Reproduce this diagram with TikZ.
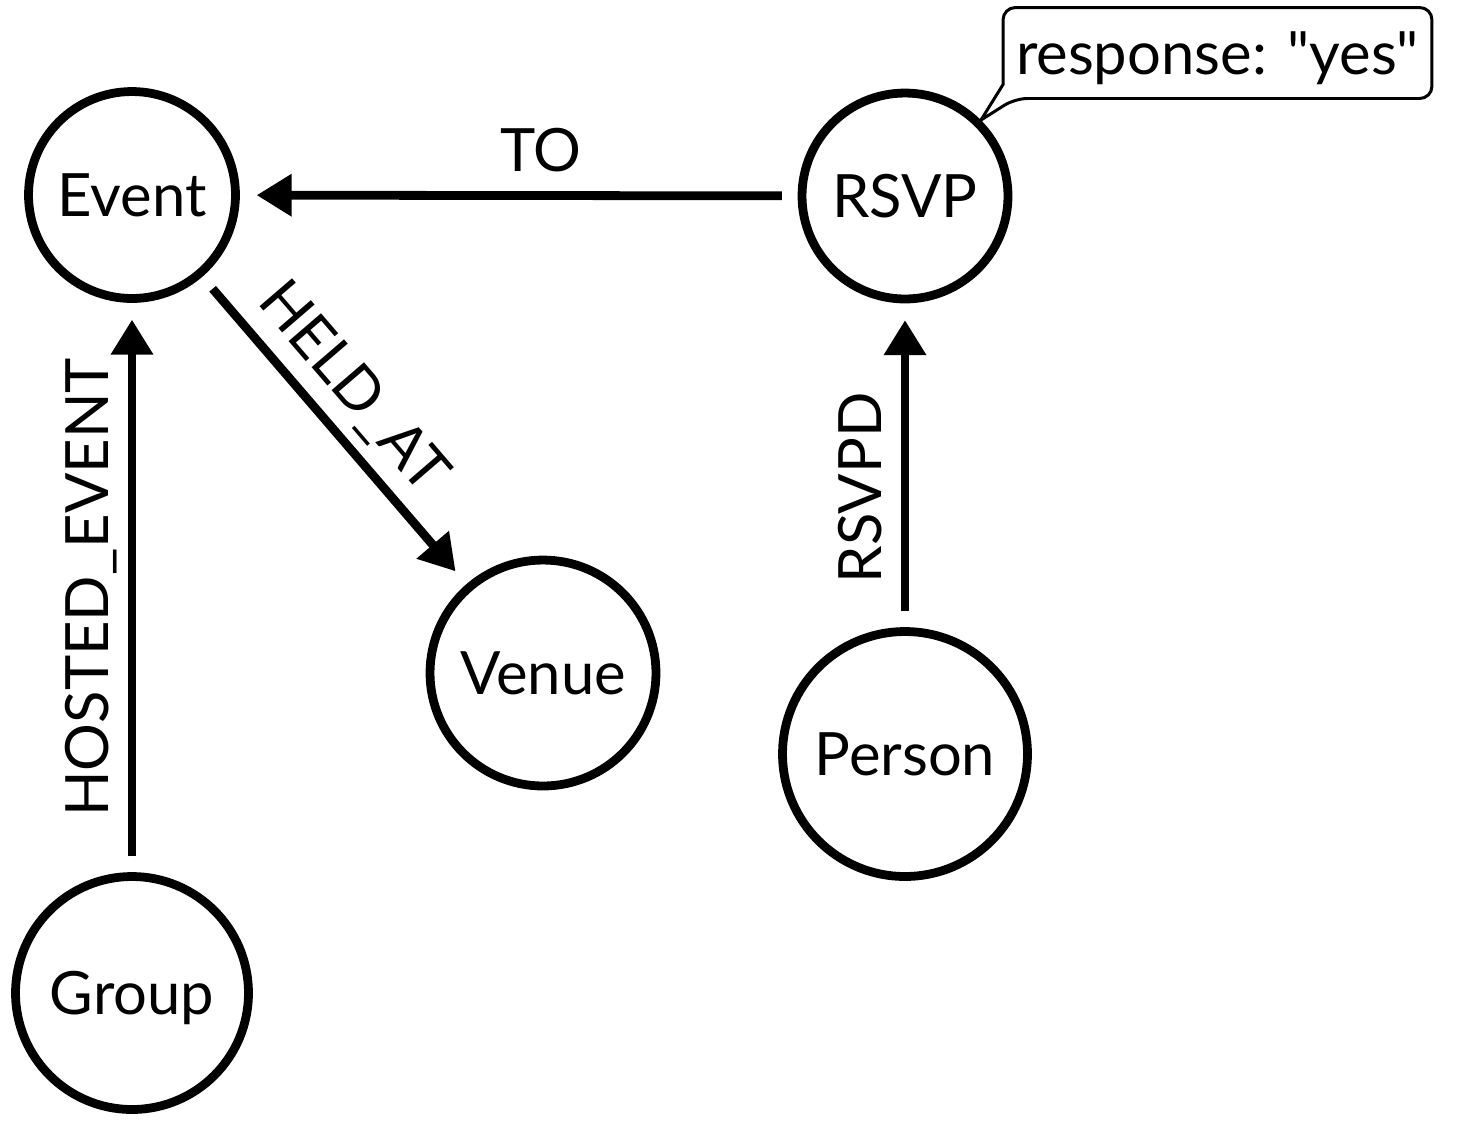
\documentclass[tikz,border=0pt]{standalone}
\usepackage{fontspec}
\newfontfamily\lato{Lato}
\usetikzlibrary{arrows.meta,calc}

\begin{document}
\begin{tikzpicture}[x=0.02cm, y=-0.02cm,
    every node/.style = {font=\lato\fontsize{34}{40}\selectfont},
    entity/.style = {shape=circle, draw, line width=5pt, inner sep=0pt,
        text height=24pt, text depth=0pt},
    rel/.style = {-{Triangle[length=20pt,width=23pt]}, line width=5pt,
        shorten >=9.5pt, shorten <=9pt},
    lbl/.style = {inner sep=11pt, text depth=0pt},
    bubble/.style = {line width=1.7pt}]
    \useasboundingbox (0,0) rectangle (1463,1134);
    \node[entity, minimum size=4.14cm] (event) at (132,195) {Event};
    \node[entity, minimum size=4.12cm] (rsvp) at (905,196) {RSVP};
    \node[entity, minimum size=4.52cm] (venue) at (543,673) {Venue};
    \node[entity, minimum size=4.9cm] (person) at (905,754) {Person};
    \node[entity, minimum size=4.66cm] (group) at (132,993) {Group};
    \draw[rel] (rsvp) -- node[lbl, above, pos=0.46] {TO} (event);
    \draw[rel] (event) -- node[lbl, above, sloped, pos=0.45] {HELD\_AT} (venue);
    \draw[rel] (group) -- node[lbl, above, sloped] {HOSTED\_EVENT} (event);
    \draw[rel] (person) -- node[lbl, above, sloped, pos=0.43] {RSVPD} (rsvp);
    % property callout
    \node[inner sep=0pt, outer sep=0pt, minimum width=8.58cm, minimum height=1.82cm,
        text height=24pt, text depth=0pt]
        (resp) at (1217.5,53) {response: "yes"};
    \draw[bubble] (rsvp.45) -- ($(resp.south west)+(0,-14)$) [rounded corners=7pt]
        -- (resp.north west) -- (resp.north east) -- (resp.south east)
        -- ($(resp.south west)+(12,0)$) [sharp corners] -- cycle;
\end{tikzpicture}
\end{document}
